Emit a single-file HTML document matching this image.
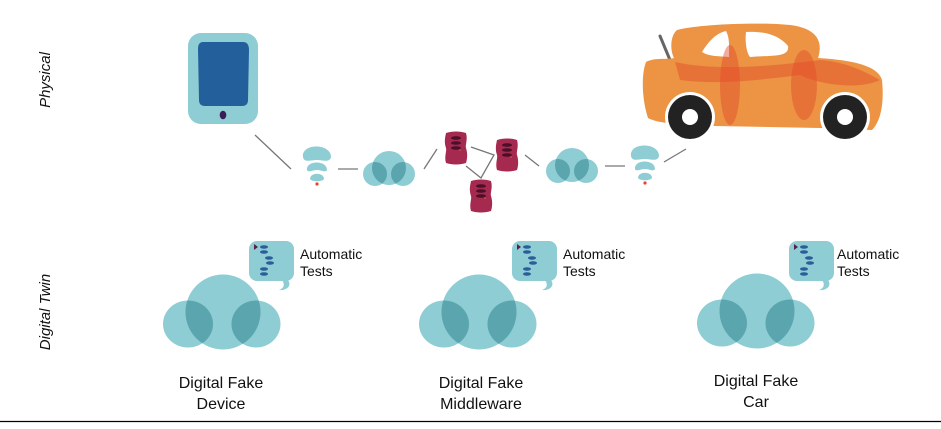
<!DOCTYPE html>
<html><head><meta charset="utf-8"><style>
body{margin:0;background:#fff;width:941px;height:424px;overflow:hidden}
text{font-family:"Liberation Sans",sans-serif;fill:#111}
</style></head><body>
<svg width="941" height="424" viewBox="0 0 941 424" xmlns="http://www.w3.org/2000/svg">
<defs>
 <clipPath id="cc"><circle cx="0" cy="0" r="37.5"/></clipPath>
 <clipPath id="scc"><circle cx="0" cy="-2" r="17"/></clipPath>
 <g id="cloud">
  <g fill="#8ecdd3">
   <circle cx="0" cy="0" r="37.5"/>
   <ellipse cx="-35" cy="12" rx="25" ry="23.5"/>
   <ellipse cx="33" cy="12" rx="24.5" ry="23.5"/>
  </g>
  <g fill="#5aa5ae" clip-path="url(#cc)">
   <ellipse cx="-35" cy="12" rx="25" ry="23.5"/>
   <ellipse cx="33" cy="12" rx="24.5" ry="23.5"/>
  </g>
 </g>
 <g id="scloud">
  <g fill="#8ecdd3">
   <circle cx="0" cy="-2" r="17"/>
   <ellipse cx="-14" cy="4" rx="12" ry="12"/>
   <ellipse cx="14" cy="4" rx="12" ry="12"/>
  </g>
  <g fill="#5aa5ae" clip-path="url(#scc)">
   <ellipse cx="-14" cy="4" rx="12" ry="12"/>
   <ellipse cx="14" cy="4" rx="12" ry="12"/>
  </g>
 </g>
 <g id="bubble">
  <rect x="0" y="0" width="45" height="40" rx="8" fill="#8ecdd3"/>
  <path d="M38 38 C44 44 38 50 30 49 C36 47 36 42 32 38Z" fill="#8ecdd3"/>
  <polygon points="5,3 9,6 5,9" fill="#5a1f4c"/>
  <g fill="#2a5d9a">
   <ellipse cx="15" cy="6" rx="4" ry="1.7"/><ellipse cx="15" cy="11" rx="4" ry="1.7"/>
   <ellipse cx="20" cy="17" rx="4" ry="1.7"/><ellipse cx="21" cy="22" rx="4" ry="1.7"/>
   <ellipse cx="15" cy="28" rx="4" ry="1.7"/><ellipse cx="15" cy="33" rx="4" ry="1.7"/>
  </g>
 </g>
 <g id="wifi">
  <path d="M-14 -6 C-16 -20 14 -20 14 -6 C13 0 5 -3 0 -3 C-6 -3 -13 0 -14 -6Z" fill="#8ecdd3"/>
  <path d="M-10 7 C-11 -3 10 -3 10 7 C9 10 4 7 0 7 C-4 7 -9 10 -10 7Z" fill="#8ecdd3"/>
  <path d="M-7 16 C-7 9 7 9 7 16 C5 19 -5 19 -7 16Z" fill="#8ecdd3"/>
  <circle cx="0" cy="21" r="1.6" fill="#e8452f"/>
 </g>
 <g id="server">
  <path d="M-10 -15 C-4 -17 4 -17 10 -15 C12 -8 9 -3 10 0 C12 6 11 12 10 15 C4 17 -4 17 -10 15 C-12 8 -9 3 -10 0 C-12 -6 -11 -10 -10 -15Z" fill="#a6294f"/>
  <g fill="#4a1028"><ellipse cx="0" cy="-10" rx="5" ry="1.8"/><ellipse cx="0" cy="-5" rx="5" ry="1.8"/><ellipse cx="0" cy="0" rx="5" ry="1.8"/></g>
  <circle cx="4" cy="2" r="0.8" fill="#d06a3a"/>
 </g>
</defs>

<text transform="translate(50,80) rotate(-90)" text-anchor="middle" font-size="15" font-style="italic">Physical</text>
<text transform="translate(50,312) rotate(-90)" text-anchor="middle" font-size="15" font-style="italic">Digital Twin</text>

<!-- tablet -->
<rect x="188" y="33" width="70" height="91" rx="13" fill="#8ecdd3"/>
<path d="M203 42 L243 42 Q249 42 249 50 L248 100 Q248 106 242 106 L205 106 Q199 106 199 100 L198 49 Q198 42 203 42Z" fill="#235f9b"/>
<ellipse cx="223" cy="115" rx="3.3" ry="4.3" fill="#3b1d5a"/>

<!-- connectors -->
<g stroke="#777" stroke-width="1.3" fill="none">
 <line x1="255" y1="135" x2="291" y2="169"/>
 <line x1="338" y1="169" x2="358" y2="169"/>
 <line x1="424" y1="169" x2="437" y2="149"/>
 <polyline points="471,147 494,155 481,178 466,166"/>
 <line x1="525" y1="155" x2="539" y2="166"/>
 <line x1="605" y1="166" x2="625" y2="166"/>
 <line x1="664" y1="162" x2="686" y2="149"/>
</g>
<use href="#wifi" transform="translate(317,163)"/>
<use href="#scloud" transform="translate(389,170)"/>
<use href="#server" transform="translate(456,148)"/>
<use href="#server" transform="translate(507,155)"/>
<use href="#server" transform="translate(481,196)"/>
<use href="#scloud" transform="translate(572,167)"/>
<use href="#wifi" transform="translate(645,162)"/>

<!-- car -->
<line x1="660" y1="36" x2="670" y2="60" stroke="#666" stroke-width="3" stroke-linecap="round"/>
<path d="M677 30 C700 24 760 22 790 25 C815 28 824 40 818 58 C850 60 878 65 882 80 C884 100 882 120 872 130 L820 128 L715 126 L690 125 C670 124 655 122 648 118 C642 100 641 75 646 62 C655 57 668 60 674 58 C670 50 670 36 677 30Z" fill="#ec9444"/>
<path d="M702 52 C708 42 716 33 726 31 C730 38 729 48 729 57 C720 56 710 57 702 52Z" fill="#fff"/>
<path d="M746 32 C762 31 778 34 788 46 C790 58 770 55 750 57 C746 52 745 40 746 32Z" fill="#fff"/>
<g fill="#e24a2b" fill-opacity="0.45">
 <ellipse cx="730" cy="85" rx="10" ry="40"/>
 <ellipse cx="804" cy="85" rx="13" ry="35"/>
 <path d="M675 62 C720 72 780 65 820 60 C850 62 870 75 880 80 C860 90 820 85 800 75 C760 80 720 85 680 80Z"/>
</g>
<circle cx="690" cy="117" r="25" fill="#fff"/>
<circle cx="690" cy="117" r="22" fill="#222"/>
<circle cx="690" cy="117" r="8" fill="#fff"/>
<circle cx="845" cy="117" r="25" fill="#fff"/>
<circle cx="845" cy="117" r="22" fill="#222"/>
<circle cx="845" cy="117" r="8" fill="#fff"/>

<!-- digital twins -->
<use href="#cloud" transform="translate(223,312)"/>
<use href="#bubble" transform="translate(249,241)"/>
<text x="300" y="259" font-size="14">Automatic</text>
<text x="300" y="276" font-size="14">Tests</text>
<text x="221" y="388" font-size="16" text-anchor="middle">Digital Fake</text>
<text x="221" y="409" font-size="16" text-anchor="middle">Device</text>

<use href="#cloud" transform="translate(479,312)"/>
<use href="#bubble" transform="translate(512,241)"/>
<text x="563" y="259" font-size="14">Automatic</text>
<text x="563" y="276" font-size="14">Tests</text>
<text x="481" y="388" font-size="16" text-anchor="middle">Digital Fake</text>
<text x="481" y="409" font-size="16" text-anchor="middle">Middleware</text>

<use href="#cloud" transform="translate(757,311)"/>
<use href="#bubble" transform="translate(789,241)"/>
<text x="837" y="259" font-size="14">Automatic</text>
<text x="837" y="276" font-size="14">Tests</text>
<text x="756" y="386" font-size="16" text-anchor="middle">Digital Fake</text>
<text x="756" y="407" font-size="16" text-anchor="middle">Car</text>

<line x1="0" y1="421.5" x2="941" y2="421.5" stroke="#000" stroke-width="1.2"/>
</svg>
</body></html>
